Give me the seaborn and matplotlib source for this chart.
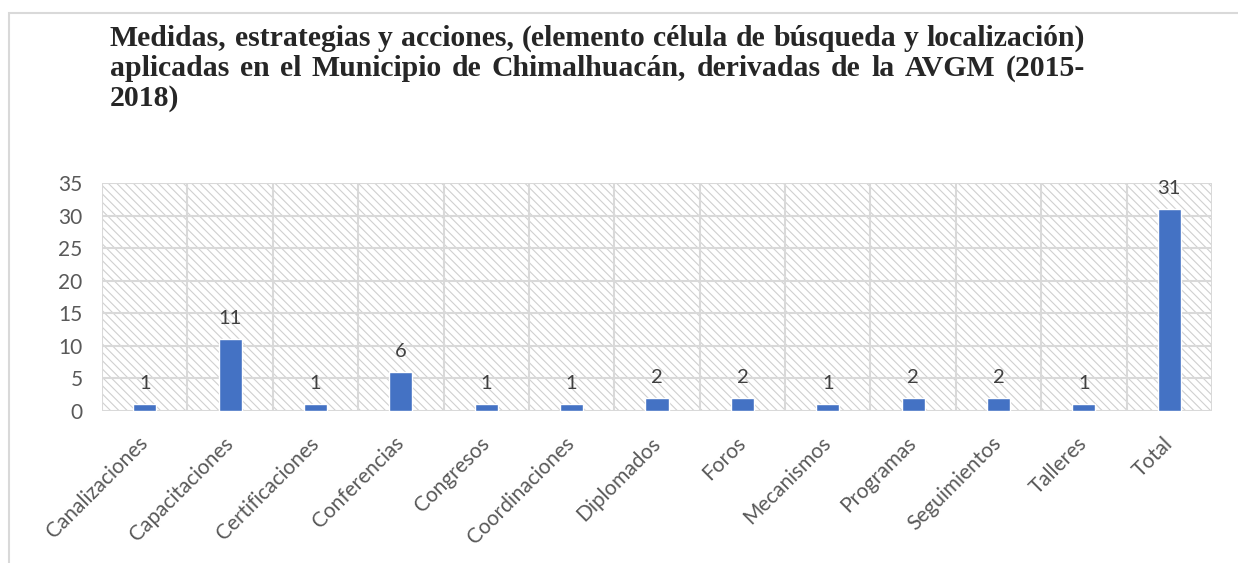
import matplotlib
matplotlib.use("Agg")
import matplotlib.pyplot as plt
import seaborn as sns
import pandas as pd
from matplotlib.patches import Rectangle

# datos del gráfico
categorias = ["Canalizaciones", "Capacitaciones", "Certificaciones", "Conferencias",
              "Congresos", "Coordinaciones", "Diplomados", "Foros", "Mecanismos",
              "Programas", "Seguimientos", "Talleres", "Total"]
valores = [1, 11, 1, 6, 1, 1, 2, 2, 1, 2, 2, 1, 31]
yticks = [0, 5, 10, 15, 20, 25, 30, 35]
titulo = ["Medidas, estrategias y acciones, (elemento célula de búsqueda y localización)",
          "aplicadas en el Municipio de Chimalhuacán, derivadas de la AVGM (2015-",
          "2018)"]

df = pd.DataFrame({"cat": categorias, "val": valores})

sns.set_style("white")
plt.rcParams["font.family"] = ["Lato", "DejaVu Sans"]
plt.rcParams["hatch.color"] = "#D0D0D0"
plt.rcParams["hatch.linewidth"] = 0.8

W, H = 1238, 563
fig = plt.figure(figsize=(W / 100, H / 100), dpi=100)
ax = fig.add_axes([102 / W, 1 - 411 / H, (1212 - 102) / W, (411 - 183) / H])

# fondo con trama diagonal
ax.add_patch(Rectangle((0, 0), 1, 1, transform=ax.transAxes, facecolor="white",
                       edgecolor="#D0D0D0", hatch="\\\\\\\\", lw=0, zorder=0))

sns.barplot(data=df, x="cat", y="val", color="#4472C4", width=0.27, ax=ax,
            saturation=1, zorder=3)

ax.set_ylim(0, 35)
ax.set_xlim(-0.5, len(categorias) - 0.5)
ax.set_yticks(yticks)
ax.set_xticks(range(len(categorias)))
ax.set_xticklabels(categorias, rotation=45, ha="right", va="center",
                   rotation_mode="anchor", fontsize=15, color="#595959")
ax.tick_params(axis="y", labelsize=15, labelcolor="#595959", length=0, pad=14)
ax.tick_params(axis="x", length=0, pad=21)
ax.set_xlabel("")
ax.set_ylabel("")

# cuadrícula
for y in yticks:
    ax.axhline(y, color="#D9D9D9", lw=1.5, zorder=1)
for i in range(len(categorias) + 1):
    ax.axvline(i - 0.5, color="#D9D9D9", lw=1.5, zorder=1)
for s in ax.spines.values():
    s.set_visible(False)

# etiquetas de datos
for i, v in enumerate(valores):
    ax.text(i, v + 1.9, str(v), ha="center", va="bottom", fontsize=14.5,
            color="#404040")

# título justificado: tamaño ajustado para que la primera línea llene el ancho
fig.canvas.draw()
renderer = fig.canvas.get_renderer()
x0, x1 = 110, 1085
ys = [38, 68, 98]
prueba = fig.text(0, 0, titulo[0], fontsize=10, fontweight="bold",
                  family="Liberation Serif")
tam = 10 * (x1 - x0) / prueba.get_window_extent(renderer).width
prueba.remove()

for k, linea in enumerate(titulo):
    palabras = linea.split(" ")
    y = 1 - ys[k] / H
    if k == len(titulo) - 1:
        fig.text(x0 / W, y, linea, fontsize=tam, fontweight="bold",
                 family="Liberation Serif", va="center", ha="left")
        continue
    objs = [fig.text(0, y, p, fontsize=tam, fontweight="bold",
                     family="Liberation Serif", va="center", ha="left") for p in palabras]
    anchos = [o.get_window_extent(renderer).width for o in objs]
    hueco = (x1 - x0 - sum(anchos)) / (len(palabras) - 1)
    pos = x0
    for o, a in zip(objs, anchos):
        o.set_x(pos / W)
        pos += a + hueco

# borde del área del gráfico
fig.patches.append(Rectangle((9 / W, -0.1), 1.2, 1.1 - 13 / H, transform=fig.transFigure,
                             fill=False, edgecolor="#D9D9D9", lw=1.5))

fig.savefig("out.png", dpi=100)
